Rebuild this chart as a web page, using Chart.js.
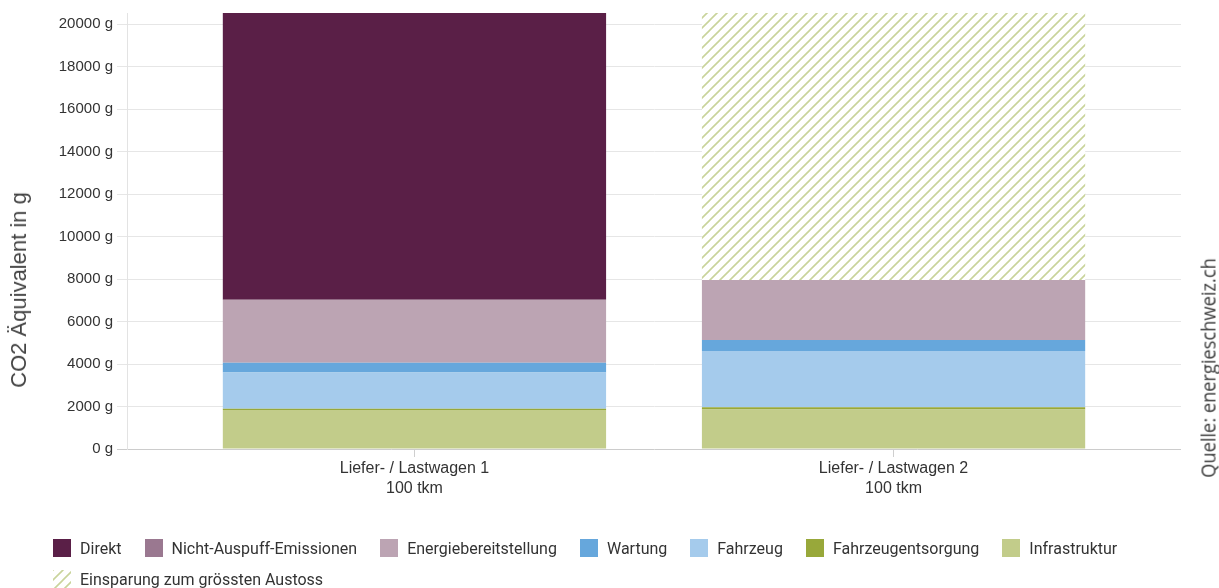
<!DOCTYPE html>
<html>
<head>
<meta charset="utf-8">
<script src="https://cdn.jsdelivr.net/npm/chart.js@4.4.1/dist/chart.umd.min.js"></script>
<style>
html,body{margin:0;padding:0;background:#fff;}
#wrap{position:relative;width:1219px;height:588px;overflow:hidden;background:#fff;}
#c{position:absolute;left:0;top:0;}
#ytitle{position:absolute;left:19px;top:290px;transform:translate(-50%,-50%) rotate(-90deg);white-space:nowrap;font:22px "Liberation Sans",Arial,sans-serif;color:#444;}
#source{position:absolute;left:1208px;top:368px;white-space:nowrap;font:20px "Open Sans","Liberation Sans",sans-serif;font-weight:400;color:#3a3a3a;}
#legend{position:absolute;left:53px;top:539px;width:1160px;display:flex;flex-wrap:wrap;column-gap:23px;row-gap:13px;font:16px Roboto,"Liberation Sans",sans-serif;color:#333;}
#legend .item{display:flex;align-items:center;height:18px;white-space:nowrap;}
#legend canvas{width:18px;height:18px;margin-right:9px;display:block;}
</style>
</head>
<body>
<div id="wrap">
  <canvas id="c" width="1219" height="588"></canvas>
  <div id="ytitle">CO2 Äquivalent in g</div>
  <div id="source">Quelle: energieschweiz.ch</div>
  <div id="legend"></div>
</div>
<script>
// ---- data ----
const categories = [['Liefer- / Lastwagen 1', '100 tkm'], ['Liefer- / Lastwagen 2', '100 tkm']];
const seriesNames = ['Infrastruktur', 'Fahrzeugentsorgung', 'Fahrzeug', 'Wartung', 'Energiebereitstellung', 'Nicht-Auspuff-Emissionen', 'Direkt', 'Einsparung zum grössten Austoss'];
const infrastruktur = [1835, 1860];
const fahrzeugentsorgung = [60, 110];
const fahrzeug = [1700, 2640];
const wartung = [470, 520];
const energiebereitstellung = [2955, 2820];
const nichtAuspuffEmissionen = [0, 0];
const direkt = [13500, 0];
const einsparung = [0, 12570];
const yTickValues = [0, 2000, 4000, 6000, 8000, 10000, 12000, 14000, 16000, 18000, 20000];
const legendOrder = ['Direkt', 'Nicht-Auspuff-Emissionen', 'Energiebereitstellung', 'Wartung', 'Fahrzeug', 'Fahrzeugentsorgung', 'Infrastruktur', 'Einsparung zum grössten Austoss'];

// ---- styles ----
const colors = ['#c2cc8a', '#98a83a', '#a5cbec', '#66a7dc', '#bca4b3', '#9a7890', '#5a1f47', null];

function makeHatch(ctx) {
  const s = 10;
  const c = document.createElement('canvas');
  c.width = s; c.height = s;
  const g = c.getContext('2d');
  g.fillStyle = '#ffffff';
  g.fillRect(0, 0, s, s);
  g.strokeStyle = '#c9d49b';
  g.lineWidth = 1.6;
  g.beginPath();
  g.moveTo(-2, s + 2); g.lineTo(s + 2, -2);
  g.moveTo(-2, 2); g.lineTo(2, -2);
  g.moveTo(s - 2, s + 2); g.lineTo(s + 2, s - 2);
  g.stroke();
  return ctx.createPattern(c, 'repeat');
}
const hatch = makeHatch(document.getElementById('c').getContext('2d'));

const seriesValues = [infrastruktur, fahrzeugentsorgung, fahrzeug, wartung, energiebereitstellung, nichtAuspuffEmissionen, direkt, einsparung];
const datasets = seriesNames.map((name, k) => ({
  label: name,
  data: seriesValues[k].map((v, i) => ({ x: i, y: v })),
  backgroundColor: colors[k] || hatch,
  borderWidth: 0,
  barPercentage: 0.8,
  categoryPercentage: 1.0
}));

const totals = categories.map((_, i) => seriesValues.reduce((a, s) => a + s[i], 0));
const yMax = Math.max(...totals);

const chart = new Chart(document.getElementById('c'), {
  type: 'bar',
  data: { datasets },
  options: {
    responsive: false,
    animation: false,
    layout: { padding: { left: 0, right: 38, top: 13, bottom: 0 } },
    plugins: { legend: { display: false }, tooltip: { enabled: false } },
    scales: {
      x: {
        type: 'linear',
        stacked: true,
        min: -0.6,
        max: 1.6,
        offset: false,
        afterBuildTicks: s => { s.ticks = categories.map((_, i) => ({ value: i })); },
        afterFit: s => { s.height = 139; },
        ticks: {
          callback: v => categories[v],
          autoSkip: false,
          maxRotation: 0,
          padding: 2,
          color: '#333',
          font: { family: '"Liberation Sans", Arial, sans-serif', size: 16, lineHeight: 1.25 }
        },
        grid: { offset: false, drawOnChartArea: false, drawTicks: true, tickLength: 8, color: '#cfcfcf' },
        border: { display: false }
      },
      y: {
        stacked: true,
        min: 0,
        max: yMax,
        afterBuildTicks: s => { s.ticks = yTickValues.map(v => ({ value: v })); },
        afterFit: s => { s.width = 127; },
        ticks: {
          callback: v => v + ' g',
          padding: 4,
          color: '#333',
          font: { family: '"Liberation Sans", Arial, sans-serif', size: 15 }
        },
        grid: {
          color: c => (c.tick && c.tick.value === 0) ? '#cccccc' : '#e6e6e6',
          tickLength: 10,
          drawTicks: true
        },
        border: { display: true, color: '#e3e3e3' }
      }
    }
  }
});

// ---- rotated source note, condensed to its length in the reference ----
const src = document.getElementById('source');
const k = 220 / src.offsetWidth;
src.style.transform = 'translate(-50%,-50%) rotate(-90deg) scaleX(' + k.toFixed(3) + ')';

// ---- HTML legend built from the chart's datasets ----
const legendEl = document.getElementById('legend');
legendOrder.forEach(name => {
  const ds = chart.data.datasets.find(d => d.label === name);
  const item = document.createElement('div');
  item.className = 'item';
  const box = document.createElement('canvas');
  box.width = 18; box.height = 18;
  const bctx = box.getContext('2d');
  bctx.fillStyle = (typeof ds.backgroundColor === 'string') ? ds.backgroundColor : makeHatch(bctx);
  bctx.fillRect(0, 0, 18, 18);
  const txt = document.createElement('span');
  txt.textContent = ds.label;
  item.appendChild(box);
  item.appendChild(txt);
  legendEl.appendChild(item);
});
</script>
</body>
</html>
